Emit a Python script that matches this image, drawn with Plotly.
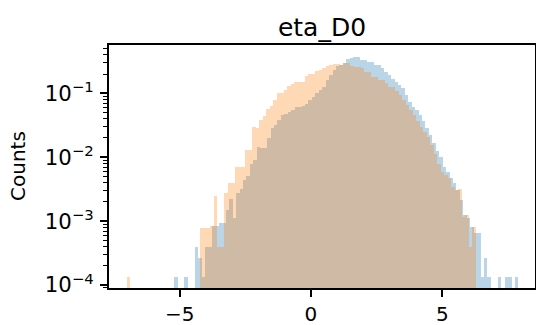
import numpy as np
import plotly.graph_objects as go

# ---- data: density histograms of eta_D0 (100 bins each) ----
blue_bin_start = -5.21
blue_bin_width = 0.1311
blue_density = [
    1.35e-4, None, None, 1.35e-4, None, None, 3.98e-4, 2.69e-4, 1.35e-4, 3.98e-4,
    3.98e-4, 8.51e-4, 8.51e-4, 9.33e-4, 9.33e-4, 1.48e-3, 2.24e-3, 1.12e-3, 2.75e-3, 3.16e-3,
    4.47e-3, 5.01e-3, 7.94e-3, 9.12e-3, 1.45e-2, 1.41e-2, 1.41e-2, 2.00e-2, 2.82e-2, 3.16e-2,
    3.80e-2, 4.57e-2, 4.79e-2, 5.13e-2, 5.50e-2, 6.03e-2, 6.17e-2, 6.31e-2, 6.90e-2, 7.94e-2,
    8.91e-2, 0.100, 0.112, 0.126, 0.162, 0.195, 0.229, 0.263, 0.275, 0.295,
    0.339, 0.355, 0.372, 0.372, 0.331, 0.331, 0.309, 0.309, 0.275, 0.275,
    0.245, 0.219, 0.195, 0.170, 0.151, 0.135, 0.120, 9.33e-2, 7.41e-2, 6.17e-2,
    5.50e-2, 4.57e-2, 3.63e-2, 2.82e-2, 2.24e-2, 1.66e-2, 1.23e-2, 1.00e-2, 7.08e-3, 5.89e-3,
    4.68e-3, 3.98e-3, 3.09e-3, 2.14e-3, 1.26e-3, 1.10e-3, 8.13e-4, 6.46e-4, 6.46e-4, 1.35e-4,
    2.69e-4, 1.35e-4, None, None, 1.35e-4, None, 1.35e-4, 1.35e-4, None, 1.35e-4,
]

orange_bin_start = -7.016
orange_bin_width = 0.1329
orange_density = [
    1.35e-4, None, None, None, None, None, None, None, None, None,
    None, None, None, None, None, None, None, None, None, None,
    None, 7.94e-4, 7.94e-4, 7.94e-4, 8.51e-4, 2.45e-3, 3.98e-4, 3.98e-4, 2.75e-3, 3.89e-3,
    3.89e-3, 7.08e-3, 7.08e-3, 7.08e-3, 1.32e-2, 1.32e-2, 3.02e-2, 2.82e-2, 3.89e-2, 4.47e-2,
    5.62e-2, 6.31e-2, 7.94e-2, 0.100, 0.100, 0.112, 0.132, 0.138, 0.151, 0.151,
    0.151, 0.186, 0.200, 0.200, 0.224, 0.229, 0.245, 0.269, 0.275, 0.288,
    0.288, 0.282, 0.295, 0.295, 0.269, 0.257, 0.257, 0.251, 0.219, 0.219,
    0.182, 0.182, 0.162, 0.162, 0.145, 0.126, 0.126, 0.107, 9.33e-2, 7.94e-2,
    6.61e-2, 5.50e-2, 4.57e-2, 3.63e-2, 3.02e-2, 2.51e-2, 2.09e-2, 1.55e-2, 1.12e-2, 7.94e-3,
    5.89e-3, 5.25e-3, 4.68e-3, 3.47e-3, 3.09e-3, 3.16e-3, 1.17e-3, 1.26e-3, 3.98e-4, 8.13e-4,
]

x_tick_values = [-5, 0, 5]
title_text = "eta_D0"
y_label = "Counts"

blue_centers = blue_bin_start + blue_bin_width * (np.arange(len(blue_density)) + 0.5)
orange_centers = orange_bin_start + orange_bin_width * (np.arange(len(orange_density)) + 0.5)

FONT = "DejaVu Sans"

fig = go.Figure()
fig.add_trace(go.Bar(
    x=blue_centers, y=blue_density, width=blue_bin_width,
    marker=dict(color="#1f77b4", line=dict(width=0)), opacity=0.3,
    showlegend=False,
))
fig.add_trace(go.Bar(
    x=orange_centers, y=orange_density, width=orange_bin_width,
    marker=dict(color="#ff7f0e", line=dict(width=0)), opacity=0.3,
    showlegend=False,
))

fig.update_layout(
    width=536, height=325,
    margin=dict(l=109, r=1, t=45, b=37),
    paper_bgcolor="white", plot_bgcolor="white",
    barmode="overlay", bargap=0,
    font=dict(family=FONT, color="black", size=20),
    title=dict(text=title_text, x=0.5, xref="paper", xanchor="center",
               y=1 - 27 / 325, yref="container", yanchor="middle",
               font=dict(family=FONT, size=25, color="black")),
    annotations=[dict(text=y_label, xref="paper", yref="paper",
                      x=(17.5 - 109) / 426, y=0.5, xanchor="center", yanchor="middle",
                      textangle=-90, showarrow=False,
                      font=dict(family=FONT, size=20, color="black"))],
)
fig.update_xaxes(
    range=[-7.69, 8.53], tickvals=x_tick_values, automargin=False,
    ticks="outside", ticklen=7, tickwidth=1.6, tickcolor="black",
    showline=True, linecolor="black", linewidth=1.6, mirror=True,
    showgrid=False, zeroline=False,
    tickfont=dict(family=FONT, size=20, color="black"),
)
fig.update_yaxes(
    type="log", range=[-4.047, -0.244], dtick=1, exponentformat="power", automargin=False,
    ticks="outside", ticklen=7, tickwidth=1.6, tickcolor="black",
    minor=dict(ticks="outside", ticklen=4, tickwidth=1.2, tickcolor="black", showgrid=False),
    showline=True, linecolor="black", linewidth=1.6, mirror=True,
    showgrid=False, zeroline=False, ticklabelstandoff=3,
    tickfont=dict(family=FONT, size=17, color="black"),
)

fig.write_html("out.html", config={"displayModeBar": False},
               post_script="document.body.style.margin='0';")
